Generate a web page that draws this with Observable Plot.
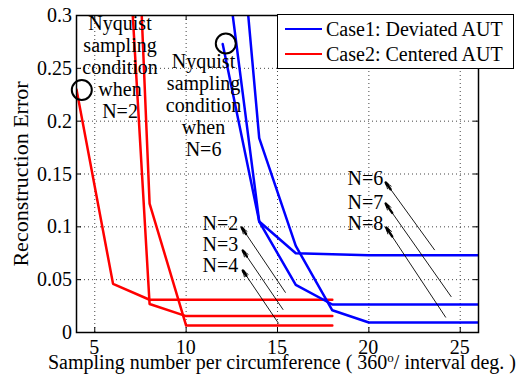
<!DOCTYPE html>
<html>
<head>
<meta charset="utf-8">
<script src="https://cdn.jsdelivr.net/npm/d3@7"></script>
<script src="https://cdn.jsdelivr.net/npm/@observablehq/plot@0.6"></script>
<style>
  body { margin: 0; background: #fff; }
  #wrap { position: relative; width: 519px; height: 376px; overflow: hidden;
          font-family: "Liberation Serif", "Times New Roman", serif; color: #000; }
  #chart svg { display: block; }
  .t { position: absolute; white-space: pre; line-height: 20px; font-size: 20px; }
  #legend { position: absolute; left: 277px; top: 14px; width: 237px; height: 55px;
            background: #fff; border: 1.5px solid #000; box-sizing: border-box; font-size: 20px; z-index: 2; }
  .entry { position: absolute; left: 7px; height: 24px; display: flex; align-items: center; white-space: nowrap; }
  .swatch { width: 37px; height: 2.5px; margin-right: 4px; }
  #xlabel { position: absolute; top: 356px; left: 282px; transform: translateX(-50%);
            font-size: 20px; line-height: 13px; white-space: nowrap; }
  #xlabel sup { font-size: 13px; vertical-align: 7px; line-height: 0; }
</style>
</head>
<body>
<div id="wrap">
  <div id="chart"></div>
  <div id="xlabel"></div>
  <div id="legend"></div>
</div>
<script>
// ---- data ----
const xRedN2 = [4, 6, 8, 10, 12, 14, 16, 18];
const redN2  = [0.23, 0.046, 0.031, 0.031, 0.031, 0.031, 0.031, 0.031];
const xRedN34 = [6, 8, 10, 12, 14, 16, 18];
const redN3  = [0.62, 0.027, 0.0155, 0.0155, 0.0155, 0.0155, 0.0155];
const redN4  = [0.95, 0.122, 0.0066, 0.0066, 0.0066, 0.0066, 0.0066];

const xBlue  = [12, 14, 16, 18, 20, 22, 24, 26];
const blueN6 = [0.273, 0.105, 0.075, 0.074, 0.073, 0.073, 0.073, 0.073];
const blueN7 = [0.374, 0.105, 0.045, 0.0265, 0.0265, 0.0265, 0.0265, 0.0265];
const blueN8 = [0.57, 0.184, 0.082, 0.021, 0.0095, 0.0095, 0.0095, 0.0095];

const xTicks = [5, 10, 15, 20, 25];
const xTickLabels = ["5", "10", "15", "20", "25"];
const yTicks = [0, 0.05, 0.1, 0.15, 0.2, 0.25, 0.3];
const yTickLabels = ["0", "0.05", "0.1", "0.15", "0.2", "0.25", "0.3"];

const seriesNames = ["Case1: Deviated AUT", "Case2: Centered AUT"];
const seriesColors = ["#0000ff", "#ff0000"];

const yLabel = "Reconstruction Error";
const xLabelParts = ["Sampling number per circumference ( 360", "o", "/ interval deg. )"];

// annotations
const nyqText = ["Nyquist\nsampling\ncondition\nwhen\nN=2", "Nyquist\nsampling\ncondition\nwhen\nN=6"];
const nyqX = [6.41, 10.98];
const nyqY = [0.2512, 0.2152];
const circX = [4.29, 12.17];
const circY = [0.2295, 0.2735];

const nLabels = ["N=2", "N=3", "N=4", "N=6", "N=7", "N=8"];
const nLabelX = [10.92, 10.92, 10.92, 18.86, 18.86, 18.86];
const nLabelY = [0.103, 0.083, 0.0634, 0.1457, 0.123, 0.103];
const arrowX1 = [15.43, 15.3, 15.05, 23.59, 24.5, 24.2];
const arrowY1 = [0.038, 0.0218, 0.0088, 0.0783, 0.034, 0.0145];
const arrowX2 = [13.04, 13.1, 13.1, 20.92, 20.92, 20.95];
const arrowY2 = [0.0994, 0.0776, 0.0587, 0.142, 0.122, 0.0994];

// ---- build tables ----
const toRows = (xs, ys, key) => xs.map((x, i) => ({x, y: ys[i], key}));
const redRows = [
  ...toRows(xRedN2, redN2, "N2"),
  ...toRows(xRedN34, redN3, "N3"),
  ...toRows(xRedN34, redN4, "N4")
];
const blueRows = [
  ...toRows(xBlue, blueN6, "N6"),
  ...toRows(xBlue, blueN7, "N7"),
  ...toRows(xBlue, blueN8, "N8")
];
const circ = circX.map((x, i) => ({x, y: circY[i]}));
const arrows = arrowX1.map((x1, i) => ({x1, y1: arrowY1[i], x2: arrowX2[i], y2: arrowY2[i]}));
const heads = arrows.map(a => ({x1: a.x2 + (a.x1 - a.x2) * 0.1, y1: a.y2 + (a.y1 - a.y2) * 0.1, x2: a.x2, y2: a.y2}));

const W = 519, H = 376, mL = 76, mR = 41, mT = 15, mB = 44;
const plotW = W - mL - mR, plotH = H - mT - mB, tick = 5;

const chart = Plot.plot({
  width: W, height: H,
  marginLeft: mL, marginRight: mR, marginTop: mT, marginBottom: mB,
  style: {background: "#fff", color: "#000"},
  x: {domain: [4, 26], axis: null},
  y: {domain: [0, 0.3], axis: null},
  marks: [
    Plot.gridX({ticks: xTicks, stroke: "#444", strokeOpacity: 1, strokeDasharray: "1,3", strokeWidth: 1}),
    Plot.gridY({ticks: yTicks, stroke: "#444", strokeOpacity: 1, strokeDasharray: "1,3", strokeWidth: 1}),
    // inward ticks on all four sides
    Plot.ruleX(xTicks, {stroke: "#000", strokeWidth: 1, insetTop: plotH - tick}),
    Plot.ruleX(xTicks, {stroke: "#000", strokeWidth: 1, insetBottom: plotH - tick}),
    Plot.ruleY(yTicks, {stroke: "#000", strokeWidth: 1, insetRight: plotW - tick}),
    Plot.ruleY(yTicks, {stroke: "#000", strokeWidth: 1, insetLeft: plotW - tick}),
    Plot.line(redRows, {x: "x", y: "y", z: "key", stroke: seriesColors[1], strokeWidth: 2.5, clip: true}),
    Plot.line(blueRows, {x: "x", y: "y", z: "key", stroke: seriesColors[0], strokeWidth: 2.5, clip: true}),
    Plot.frame({stroke: "#000", strokeWidth: 1.5}),
    Plot.dot(circ, {x: "x", y: "y", r: 10, stroke: "#000", strokeWidth: 2, fill: "none"}),
    Plot.arrow(arrows, {x1: "x1", y1: "y1", x2: "x2", y2: "y2", stroke: "#000", strokeWidth: 0.9, headLength: 11, headAngle: 40}),
    Plot.arrow(heads, {x1: "x1", y1: "y1", x2: "x2", y2: "y2", stroke: "#000", strokeWidth: 2.4, headLength: 7, headAngle: 22})
  ]
});
document.getElementById("chart").appendChild(chart);

// ---- text, placed with the chart's own scales ----
const sx = chart.scale("x"), sy = chart.scale("y");
const wrap = d3.select("#wrap");
function put(txt, left, top, tf, extra = {}) {
  const el = wrap.append("div").attr("class", "t").text(txt)
    .style("left", left + "px").style("top", top + "px").style("transform", tf);
  for (const k in extra) el.style(k, extra[k]);
  return el;
}
// x tick labels
xTicks.forEach((v, i) => put(xTickLabels[i], sx.apply(v), 346.5, "translate(-50%,-50%)", {"line-height": "13px"}));
// y tick labels
yTicks.forEach((v, i) => put(yTickLabels[i], mL - 4, sy.apply(v), "translate(-100%,-50%)", {"line-height": "14px"}));
// Nyquist annotations
nyqText.forEach((t, i) => put(t, sx.apply(nyqX[i]), sy.apply(nyqY[i]), "translate(-50%,-50%)",
  {"line-height": "22px", "text-align": "center"}));
// N labels
nLabels.forEach((t, i) => put(t, sx.apply(nLabelX[i]), sy.apply(nLabelY[i]), "translate(0,-50%)", {"line-height": "16px"}));
// y label
put(yLabel, 21, (mT + H - mB) / 2, "translate(-50%,-50%) rotate(-90deg)", {"font-size": "22px", "line-height": "22px"});

// x label (with superscript o)
const xl = document.getElementById("xlabel");
xl.appendChild(document.createTextNode(xLabelParts[0]));
const sup = document.createElement("sup"); sup.textContent = xLabelParts[1]; xl.appendChild(sup);
xl.appendChild(document.createTextNode(xLabelParts[2]));

// legend
const lg = document.getElementById("legend");
seriesNames.forEach((name, i) => {
  const e = document.createElement("div");
  e.className = "entry";
  e.style.top = (i === 0 ? 2 : 27) + "px";
  const s = document.createElement("div");
  s.className = "swatch"; s.style.background = seriesColors[i];
  e.appendChild(s);
  e.appendChild(document.createTextNode(name));
  lg.appendChild(e);
});
</script>
</body>
</html>
